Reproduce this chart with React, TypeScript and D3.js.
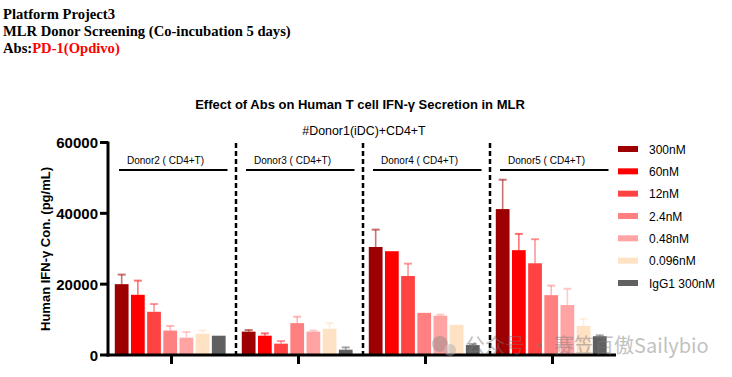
import React from "react";
import * as d3 from "d3";

const donors = ["Donor2 ( CD4+T)", "Donor3 ( CD4+T)", "Donor4 ( CD4+T)", "Donor5 ( CD4+T)"];
const series = ["300nM", "60nM", "12nM", "2.4nM", "0.48nM", "0.096nM", "IgG1 300nM"];
const colors = ["#9c0000", "#ff0000", "#ff4343", "#ff8080", "#ffa3a3", "#ffe1c4", "#606060"];
// mean values per donor, in series order
const means = [
  [20000, 17000, 12200, 6900, 4900, 6000, 5450],
  [6600, 5450, 3200, 9000, 6600, 7400, 1500],
  [30500, 29300, 22300, 11900, 11100, 8500, 2800],
  [41200, 29600, 25900, 16900, 14100, 8200, 5300],
];
// upper error (mean + SD)
const errTops = [
  [22700, 21000, 14400, 8200, 6500, 6950, 5450],
  [7050, 6100, 3950, 10800, 6900, 9000, 2150],
  [35400, 29300, 25800, 11900, 11400, 8500, 3100],
  [49500, 34200, 32700, 19600, 18700, 10200, 5550],
];
const yTicks = [0, 20000, 40000, 60000];

const SANS = "'Liberation Sans', Arial, sans-serif";

export default function App() {
  const y = d3.scaleLinear().domain([0, 60000]).range([355, 142.5]);
  const x0 = d3.scaleBand<string>().domain(donors).range([108, 616]);
  const x1 = d3
    .scaleBand<string>()
    .domain(series)
    .range([0, x0.bandwidth()])
    .paddingInner(0.15)
    .paddingOuter(0.5)
    .align(0.42);
  const bw = x1.bandwidth();
  const legendY = d3.scalePoint<string>().domain(series).range([149, 283]);

  return (
    <div style={{ position: "absolute", left: 0, top: 0 }}>
      <svg width={732} height={377} style={{ display: "block" }}>
        <rect width={732} height={377} fill="#fff" />
        {/* header */}
        <g fontFamily="'Liberation Serif', 'Times New Roman', serif" fontWeight="bold" fontSize={14.6}>
          <text x={3} y={19}>Platform Project3</text>
          <text x={3} y={36}>MLR Donor Screening (Co-incubation 5 days)</text>
          <text x={3} y={53}>
            Abs:<tspan fill="#ff0000">PD-1(Opdivo)</tspan>
          </text>
        </g>
        {/* titles */}
        <text x={360} y={109} textAnchor="middle" fontFamily={SANS} fontWeight="bold" fontSize={13}>
          Effect of Abs on Human T cell IFN-γ Secretion in MLR
        </text>
        <text x={364} y={135} textAnchor="middle" fontFamily={SANS} fontSize={12.4}>
          #Donor1(iDC)+CD4+T
        </text>
        {/* y axis label */}
        <text
          transform="translate(50,249) rotate(-90)"
          textAnchor="middle"
          fontFamily={SANS}
          fontWeight="bold"
          fontSize={13}
        >
          Human IFN-γ Con. (pg/mL)
        </text>
        {/* bars */}
        {donors.map((d, gi) => (
          <g key={d} transform={`translate(${x0(d)},0)`}>
            {series.map((s, si) => {
              const bx = x1(s)!;
              const v = means[gi][si];
              const e = errTops[gi][si];
              const cx = bx + bw / 2;
              return (
                <g key={s}>
                  {e > v && (
                    <g stroke={colors[si]} strokeOpacity={0.55} strokeWidth={1.6}>
                      <line x1={cx} x2={cx} y1={y(v)} y2={y(e)} />
                      <line x1={cx - 4} x2={cx + 4} y1={y(e)} y2={y(e)} strokeWidth={2} />
                    </g>
                  )}
                  <rect x={bx} y={y(v)} width={bw} height={y(0) - y(v)} fill={colors[si]} />
                </g>
              );
            })}
            <text
              x={x0.bandwidth() / 2 - 6}
              y={164}
              textAnchor="middle"
              fontFamily={SANS}
              fontSize={10}
            >
              {d}
            </text>
            <line x1={11} x2={119.5} y1={170} y2={170} stroke="#000" strokeWidth={2} />
          </g>
        ))}
        {/* dashed separators */}
        {donors.slice(1).map((d) => (
          <line
            key={d}
            x1={x0(d)! + 1}
            x2={x0(d)! + 1}
            y1={143}
            y2={354}
            stroke="#000"
            strokeWidth={2.5}
            strokeDasharray="5,3"
          />
        ))}
        {/* y axis */}
        <line x1={108} x2={108} y1={141.5} y2={356.5} stroke="#000" strokeWidth={3} />
        {yTicks.map((t) => (
          <g key={t}>
            <line x1={100} x2={108} y1={y(t)} y2={y(t)} stroke="#000" strokeWidth={3} />
            <text
              x={98}
              y={y(t) + 5.5}
              textAnchor="end"
              fontFamily={SANS}
              fontWeight="bold"
              fontSize={15}
            >
              {t}
            </text>
          </g>
        ))}
        {/* x axis */}
        <line x1={106.5} x2={616} y1={355} y2={355} stroke="#000" strokeWidth={3} />
        {donors.map((d) => (
          <line
            key={d}
            x1={x0(d)! + x0.bandwidth() / 2}
            x2={x0(d)! + x0.bandwidth() / 2}
            y1={355}
            y2={364}
            stroke="#000"
            strokeWidth={3}
          />
        ))}
        {/* legend */}
        {series.map((s, i) => (
          <g key={s} transform={`translate(618,${legendY(s)})`}>
            <rect x={0} y={-3} width={20} height={6} fill={colors[i]} />
            <text x={31} y={4.5} fontFamily={SANS} fontSize={12}>
              {s}
            </text>
          </g>
        ))}
        {/* watermark */}
        <g opacity={0.45}>
          <circle cx={440} cy={344} r={8} fill="#888" />
          <circle cx={450} cy={350} r={6} fill="#aaa" />
          <text
            x={465}
            y={353}
            fontFamily="'Noto Sans CJK SC', 'Noto Sans', sans-serif"
            fontSize={20}
            fill="#777"
          >
            公众号 · 赛笠百傲Sailybio
          </text>
        </g>
      </svg>
    </div>
  );
}
